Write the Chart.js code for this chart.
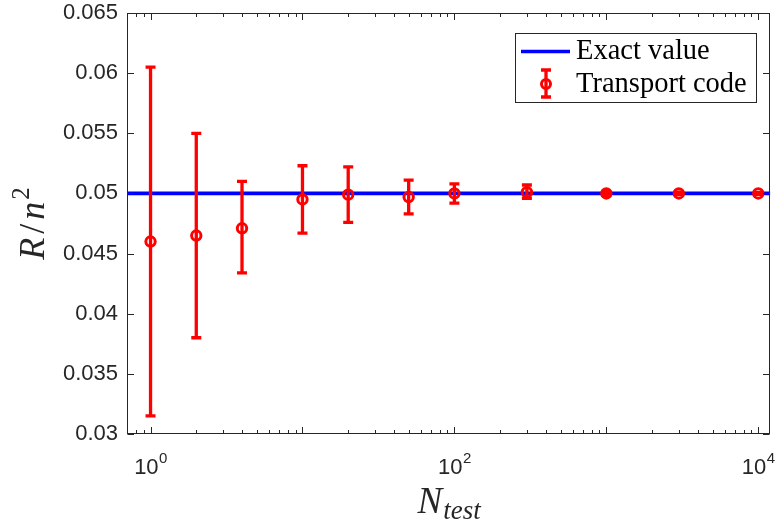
<!DOCTYPE html>
<html>
<head>
<meta charset="utf-8">
<script src="https://cdn.jsdelivr.net/npm/chart.js@4.4.1/dist/chart.umd.min.js"></script>
<style>
    html, body { margin: 0; padding: 0; background: #ffffff; }
    #contenedor { width: 778px; height: 525px; position: relative; }
</style>
</head>
<body>
<div id="contenedor"><canvas id="grafico"></canvas></div>
<script>
// Datos: número de partículas de prueba y resultado del código de transporte
const nTest = [1, 2, 4, 10, 20, 50, 100, 300, 1000, 3000, 10000];
const rMedio = [0.0460, 0.0465, 0.0471, 0.0495, 0.0499, 0.0497, 0.0500, 0.0501, 0.0500, 0.0500, 0.0500];
const rSuperior = [0.0605, 0.0550, 0.0510, 0.0523, 0.0522, 0.0511, 0.0508, 0.0507, 0.05015, 0.0501, 0.05007];
const rInferior = [0.0315, 0.0380, 0.0434, 0.0467, 0.0476, 0.0483, 0.0492, 0.0496, 0.04985, 0.0499, 0.04993];

// Valor exacto (línea horizontal) y límites de los ejes
const valorExacto = 0.05;
const limitesX = [0.7, 12000];
const limitesY = [0.03, 0.065];
const pasoY = 0.005;
const etiquetasX = [1, 100, 10000];

const colorEjes = '#262626';
const fuenteEjes = "'Liberation Sans', Arial, sans-serif";
const fuenteLatex = "'Liberation Serif', 'Times New Roman', serif";

Chart.defaults.font.family = fuenteEjes;
Chart.defaults.color = colorEjes;

// Barras de error del código de transporte (se dibujan antes de los marcadores)
const barrasError = {
    id: 'barrasError',
    beforeDatasetDraw(chart, args) {
        if (args.meta.label !== 'Transport code') return;
        const { ctx, scales: { x, y } } = chart;
        const medioAncho = 5;
        ctx.save();
        ctx.strokeStyle = '#ff0000';
        ctx.lineWidth = 3.3;
        ctx.lineCap = 'butt';
        nTest.forEach((n, i) => {
            const px = x.getPixelForValue(n);
            const ySup = y.getPixelForValue(rSuperior[i]);
            const yInf = y.getPixelForValue(rInferior[i]);
            ctx.beginPath();
            ctx.moveTo(px, ySup);
            ctx.lineTo(px, yInf);
            ctx.moveTo(px - medioAncho, ySup);
            ctx.lineTo(px + medioAncho, ySup);
            ctx.moveTo(px - medioAncho, yInf);
            ctx.lineTo(px + medioAncho, yInf);
            ctx.stroke();
        });
        ctx.restore();
    }
};

// Caja, marcas, etiquetas del eje x, títulos y leyenda al estilo MATLAB
const marcoMatlab = {
    id: 'marcoMatlab',
    afterDraw(chart) {
        const { ctx, chartArea: a, scales: { x, y } } = chart;
        const izq = Math.round(a.left) + 0.5;
        const der = Math.round(a.right) - 0.5;
        const arr = Math.round(a.top) + 0.5;
        const aba = Math.round(a.bottom) - 0.5;

        ctx.save();
        ctx.strokeStyle = colorEjes;
        ctx.lineWidth = 1;
        ctx.strokeRect(izq, arr, der - izq, aba - arr);

        // marcas del eje y, hacia dentro en ambos lados
        ctx.beginPath();
        for (let v = limitesY[0]; v <= limitesY[1] + 1e-9; v += pasoY) {
            const py = Math.round(y.getPixelForValue(v)) + 0.5;
            ctx.moveTo(izq, py); ctx.lineTo(izq + 6.5, py);
            ctx.moveTo(der, py); ctx.lineTo(der - 6.5, py);
        }
        // marcas del eje x logarítmico (mayores y menores)
        for (let d = 0.1; d <= 10000; d *= 10) {
            for (let k = 1; k <= 9; k++) {
                const v = k * d;
                if (v < limitesX[0] || v > limitesX[1]) continue;
                const largo = k === 1 ? 6.5 : 3.5;
                const px = Math.round(x.getPixelForValue(v)) + 0.5;
                ctx.moveTo(px, aba); ctx.lineTo(px, aba - largo);
                ctx.moveTo(px, arr); ctx.lineTo(px, arr + largo);
            }
        }
        ctx.stroke();

        // etiquetas 10^k con exponente
        ctx.fillStyle = colorEjes;
        ctx.textBaseline = 'alphabetic';
        ctx.textAlign = 'left';
        etiquetasX.forEach(v => {
            const px = x.getPixelForValue(v);
            const exp = String(Math.round(Math.log10(v)));
            ctx.font = `22px ${fuenteEjes}`;
            const anchoBase = ctx.measureText('10').width;
            ctx.font = `15px ${fuenteEjes}`;
            const anchoExp = ctx.measureText(exp).width;
            const x0 = px - (anchoBase + anchoExp) / 2;
            ctx.font = `22px ${fuenteEjes}`;
            ctx.fillText('10', x0, 474);
            ctx.font = `15px ${fuenteEjes}`;
            ctx.fillText(exp, x0 + anchoBase + 0.5, 463);
        });

        // título del eje x: N_test
        ctx.font = `italic 37px ${fuenteLatex}`;
        const anchoN = ctx.measureText('N').width;
        ctx.font = `italic 27px ${fuenteLatex}`;
        const anchoSub = ctx.measureText('test').width;
        const xc = (a.left + a.right) / 2;
        const xN = xc - (anchoN + anchoSub) / 2;
        ctx.font = `italic 37px ${fuenteLatex}`;
        ctx.fillText('N', xN, 513);
        ctx.font = `italic 27px ${fuenteLatex}`;
        ctx.fillText('test', xN + anchoN + 1, 519);

        // título del eje y: R/n^2 (girado)
        ctx.save();
        ctx.translate(44, (a.top + a.bottom) / 2);
        ctx.rotate(-Math.PI / 2);
        const piezas = [
            { t: 'R', f: `italic 36px ${fuenteLatex}`, dy: 0, sep: 4 },
            { t: '/', f: `36px ${fuenteLatex}`, dy: 0, sep: 4 },
            { t: 'n', f: `italic 36px ${fuenteLatex}`, dy: 0, sep: 2 },
            { t: '2', f: `25px ${fuenteLatex}`, dy: -15, sep: 0 }
        ];
        let total = 0;
        piezas.forEach(p => { ctx.font = p.f; p.w = ctx.measureText(p.t).width; total += p.w + p.sep; });
        let cx = -total / 2;
        piezas.forEach(p => {
            ctx.font = p.f;
            ctx.fillText(p.t, cx, p.dy);
            cx += p.w + p.sep;
        });
        ctx.restore();

        // leyenda
        const caja = { x: 515.5, y: 33.5, w: 241, h: 69 };
        ctx.fillStyle = '#ffffff';
        ctx.fillRect(caja.x, caja.y, caja.w, caja.h);
        ctx.strokeStyle = colorEjes;
        ctx.lineWidth = 1;
        ctx.strokeRect(caja.x, caja.y, caja.w, caja.h);

        ctx.strokeStyle = '#0000ff';
        ctx.lineWidth = 3.5;
        ctx.beginPath();
        ctx.moveTo(521, 51.5); ctx.lineTo(570, 51.5);
        ctx.stroke();

        ctx.strokeStyle = '#ff0000';
        ctx.lineWidth = 3.3;
        ctx.beginPath();
        ctx.moveTo(546, 70); ctx.lineTo(546, 97);
        ctx.moveTo(541, 70); ctx.lineTo(551, 70);
        ctx.moveTo(541, 97); ctx.lineTo(551, 97);
        ctx.stroke();
        ctx.lineWidth = 3;
        ctx.beginPath();
        ctx.arc(546, 84, 4.5, 0, Math.PI * 2);
        ctx.stroke();

        ctx.fillStyle = '#000000';
        ctx.font = `28.5px ${fuenteLatex}`;
        ctx.fillText('Exact value', 576, 59);
        ctx.fillText('Transport code', 576, 92);
        ctx.restore();
    }
};

document.addEventListener('DOMContentLoaded', () => {
    const ctx = document.getElementById('grafico').getContext('2d');

    new Chart(ctx, {
        type: 'line',
        data: {
            datasets: [
                {
                    label: 'Exact value',
                    data: limitesX.map(n => ({ x: n, y: valorExacto })),
                    borderColor: '#0000ff',
                    borderWidth: 3.7,
                    pointRadius: 0,
                    order: 2
                },
                {
                    label: 'Transport code',
                    data: nTest.map((n, i) => ({ x: n, y: rMedio[i] })),
                    showLine: false,
                    borderColor: '#ff0000',
                    backgroundColor: 'rgba(0,0,0,0)',
                    pointStyle: 'circle',
                    pointRadius: 4.7,
                    pointBorderWidth: 3,
                    order: 1
                }
            ]
        },
        options: {
            responsive: true,
            maintainAspectRatio: false,
            animation: false,
            layout: { padding: { top: 13, right: 6, left: 0, bottom: 0 } },
            plugins: {
                legend: { display: false },
                tooltip: { enabled: false }
            },
            scales: {
                x: {
                    type: 'logarithmic',
                    min: limitesX[0],
                    max: limitesX[1],
                    grid: { display: false, drawTicks: false },
                    border: { display: false },
                    ticks: { display: false },
                    afterFit: escala => {
                        escala.height = 91;
                        escala.paddingLeft = 0;
                        escala.paddingRight = 0;
                    }
                },
                y: {
                    type: 'linear',
                    min: limitesY[0],
                    max: limitesY[1],
                    grid: { display: false, drawTicks: false },
                    border: { display: false },
                    ticks: {
                        stepSize: pasoY,
                        padding: 9,
                        color: colorEjes,
                        font: { size: 22 },
                        callback: valor => String(+valor.toFixed(3))
                    },
                    afterFit: escala => {
                        escala.width = 127;
                        escala.paddingTop = 0;
                        escala.paddingBottom = 0;
                    }
                }
            }
        },
        plugins: [barrasError, marcoMatlab]
    });
});
</script>
</body>
</html>
